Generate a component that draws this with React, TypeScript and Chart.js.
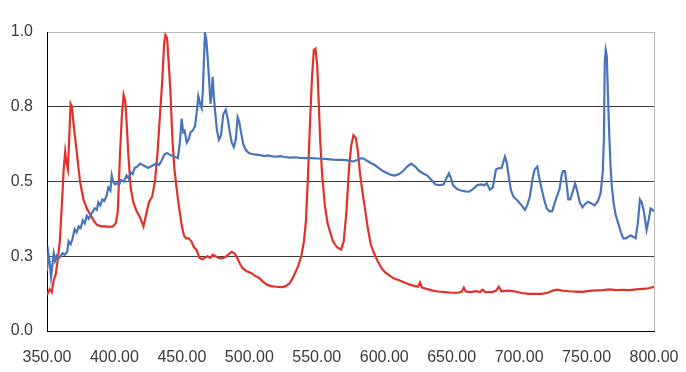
import { useEffect, useRef } from 'react';
import { Chart, registerables } from 'chart.js';

Chart.register(...registerables);

// Red spectrum (wavelength nm, relative intensity)
const redX = [
  350, 352, 353.5, 355, 356.5, 358, 359.5, 361, 362.5, 363.5, 364.5, 365.5, 366.5, 367.5, 368.5, 369.5,
  371, 372.5, 374.5, 377, 379.5, 382, 384.5, 387, 390, 393, 396, 399, 401, 402.5, 404, 405.5, 406.8,
  408, 409, 410.3, 412, 414, 416.5, 419, 421.5, 423.5, 425.5, 428, 430, 432, 434, 435.5, 436.8, 437.8,
  439, 440.2, 441.5, 443, 444.5, 446, 448, 450, 451.5, 453, 455, 457, 459, 461, 463, 465, 467, 469,
  471, 473, 475, 477, 479, 481, 483, 485, 487, 489, 491, 493, 495, 498, 501, 504, 507, 510, 513, 516,
  520, 524, 527, 530, 533, 536, 538.5, 540.5, 542, 543.5, 545, 546.5, 547.8, 549, 550.3, 551.5, 552.5,
  554, 556, 558, 560, 562, 565, 568, 570, 572, 574, 575.5, 577.2, 579, 580.5, 582, 584, 586, 588, 590,
  592, 595, 598, 601, 604, 607, 611, 615, 619, 623, 625, 626.5, 628, 632, 636, 640, 645, 650, 655,
  657.5, 659, 660.5, 664, 668, 671, 673, 675, 680, 683, 685, 687, 692, 697, 702, 707, 712, 717, 721,
  725, 728, 732, 737, 742, 747, 752, 757, 762, 767, 772, 777, 782, 787, 792, 796, 800,
];
const redY = [
  0.12, 0.14, 0.13, 0.17, 0.19, 0.24, 0.3, 0.42, 0.55, 0.6, 0.56, 0.54, 0.65, 0.76, 0.75, 0.7,
  0.64, 0.58, 0.5, 0.44, 0.41, 0.39, 0.37, 0.355, 0.35, 0.35, 0.348, 0.35, 0.36, 0.4, 0.58, 0.72, 0.79,
  0.77, 0.7, 0.59, 0.48, 0.43, 0.4, 0.38, 0.35, 0.39, 0.43, 0.45, 0.5, 0.6, 0.74, 0.84, 0.96, 0.99,
  0.98, 0.9, 0.8, 0.64, 0.54, 0.48, 0.41, 0.35, 0.32, 0.31, 0.31, 0.3, 0.28, 0.27, 0.245, 0.24, 0.245, 0.25,
  0.245, 0.255, 0.25, 0.245, 0.243, 0.245, 0.25, 0.258, 0.265, 0.26, 0.245, 0.225, 0.21, 0.2, 0.195, 0.185, 0.178, 0.165, 0.155, 0.15,
  0.148, 0.147, 0.15, 0.16, 0.185, 0.215, 0.25, 0.3, 0.37, 0.52, 0.7, 0.85, 0.94, 0.945, 0.89, 0.76, 0.64,
  0.52, 0.42, 0.36, 0.33, 0.3, 0.28, 0.272, 0.3, 0.4, 0.55, 0.62, 0.655, 0.645, 0.6, 0.53, 0.46, 0.4, 0.34, 0.29,
  0.265, 0.235, 0.21, 0.195, 0.185, 0.176, 0.17, 0.162, 0.155, 0.15, 0.148, 0.162, 0.145, 0.14, 0.135, 0.132, 0.13, 0.128, 0.128,
  0.132, 0.145, 0.132, 0.13, 0.133, 0.13, 0.138, 0.13, 0.13, 0.135, 0.148, 0.133, 0.135, 0.132, 0.127, 0.124, 0.124, 0.124, 0.128,
  0.135, 0.138, 0.135, 0.133, 0.132, 0.131, 0.134, 0.136, 0.137, 0.139, 0.137, 0.138, 0.137, 0.139, 0.141, 0.143, 0.148,
];

// Blue spectrum (wavelength nm, relative intensity)
const blueX = [
  350, 351, 352, 353, 354, 355, 356, 357, 358, 360, 361.5, 363, 365, 366, 367.5, 369, 370.5, 372, 373.5,
  375, 376.5, 378, 379.5, 381, 382.5, 384, 385.5, 387, 388, 389.5, 391, 392.5, 394, 395.5, 397, 398, 399,
  400.5, 402, 403.5, 405, 407, 409, 410.5, 412, 413.5, 415, 417, 419, 421, 423, 425, 427, 429, 431, 433,
  435, 437, 439, 441, 443, 445, 447, 448.5, 449.8, 451, 452, 453.6, 455, 456.5, 458, 459.7, 461, 462.2,
  463.5, 464.7, 465.5, 466.3, 467.1, 468, 469, 470.2, 471.2, 472.2, 472.8, 473.6, 474.5, 476, 477.5, 479,
  480.7, 482.5, 484, 485.7, 487, 488.5, 490, 491.3, 492.5, 494, 495.5, 497.5, 499.5, 502, 505, 508, 511,
  514, 517, 520, 523, 526, 530, 534, 538, 542, 546, 550, 554, 558, 562, 566, 570, 574, 577, 580, 583, 585,
  587, 590, 593, 596, 599, 602, 605, 608, 611, 614, 617, 620, 623, 626, 629, 632, 635, 638, 641, 644, 646,
  648, 649.5, 651, 654, 657, 660, 663, 666, 669, 672, 674, 676, 678.4, 680.5, 682.8, 685, 687, 689.5, 691,
  692.5, 694, 695.7, 698, 701, 704.3, 706, 708, 710, 711.5, 713.5, 715, 716.5, 718.5, 720.5, 722.5, 724.5,
  726.5, 728, 730, 731.5, 732.5, 734, 735.5, 736.5, 738, 740, 741.5, 743, 745, 747, 749, 751, 753, 756,
  758.5, 760.4, 762, 762.9, 763.5, 764.2, 765, 765.8, 766.8, 767.8, 768.8, 770, 771.5, 773.5, 775.5, 777.2,
  779, 781, 782.5, 784.5, 786.4, 788, 789.6, 791, 792.5, 794.5, 796, 797.5, 799, 800,
];
const blueY = [
  0.2, 0.26, 0.23, 0.18, 0.22, 0.26, 0.235, 0.25, 0.24, 0.25, 0.26, 0.255, 0.265, 0.3, 0.29, 0.31, 0.34, 0.33, 0.35,
  0.345, 0.37, 0.36, 0.385, 0.375, 0.39, 0.4, 0.41, 0.405, 0.43, 0.42, 0.44, 0.435, 0.45, 0.48, 0.47, 0.52, 0.5,
  0.49, 0.495, 0.49, 0.505, 0.5, 0.52, 0.51, 0.53, 0.525, 0.545, 0.55, 0.56, 0.555, 0.55, 0.545, 0.55, 0.555, 0.56, 0.555,
  0.57, 0.59, 0.595, 0.59, 0.585, 0.582, 0.578, 0.63, 0.71, 0.665, 0.67, 0.63, 0.64, 0.665, 0.67, 0.685, 0.73, 0.785,
  0.76, 0.745, 0.8, 0.9, 0.995, 0.98, 0.92, 0.84, 0.76, 0.8, 0.85, 0.79, 0.74, 0.67, 0.64, 0.655,
  0.725, 0.74, 0.71, 0.66, 0.63, 0.615, 0.64, 0.715, 0.7, 0.66, 0.625, 0.605, 0.595, 0.592, 0.59, 0.588, 0.585,
  0.587, 0.584, 0.583, 0.585, 0.582, 0.58, 0.581, 0.579, 0.578, 0.578, 0.577, 0.576, 0.575, 0.573, 0.572, 0.572, 0.57, 0.567, 0.572, 0.578, 0.576,
  0.57, 0.562, 0.555, 0.545, 0.535, 0.528, 0.522, 0.52, 0.525, 0.535, 0.55, 0.56, 0.55, 0.535, 0.527, 0.52, 0.505, 0.49, 0.488, 0.49, 0.51,
  0.527, 0.51, 0.488, 0.475, 0.47, 0.467, 0.466, 0.475, 0.488, 0.49, 0.487, 0.494, 0.472, 0.48, 0.54, 0.545, 0.545, 0.583, 0.56,
  0.51, 0.47, 0.45, 0.44, 0.425, 0.405, 0.42, 0.45, 0.51, 0.54, 0.55, 0.51, 0.48, 0.44, 0.41, 0.4, 0.4,
  0.43, 0.45, 0.475, 0.52, 0.535, 0.535, 0.48, 0.44, 0.44, 0.47, 0.494, 0.47, 0.43, 0.414, 0.425, 0.432, 0.428, 0.42,
  0.435, 0.461, 0.53, 0.65, 0.9, 0.94, 0.92, 0.8, 0.66, 0.55, 0.48, 0.43, 0.39, 0.36, 0.33, 0.31,
  0.31, 0.315, 0.32, 0.315, 0.31, 0.36, 0.44, 0.43, 0.4, 0.338, 0.37, 0.41, 0.405, 0.4,
];

const yTickLabels = ['0.0', '0.3', '0.5', '0.8', '1.0'];
const xMin = 350;
const xMax = 800;
const xStep = 50;

export default function App() {
  const ref = useRef<HTMLCanvasElement | null>(null);

  useEffect(() => {
    document.body.style.margin = '0';
    const canvas = ref.current;
    if (!canvas) return;
    const font = { family: '"Liberation Sans", Arial, sans-serif', size: 16 };
    const chart = new Chart(canvas, {
      type: 'line',
      data: {
        datasets: [
          {
            data: blueX.map((x, i) => ({ x, y: blueY[i] })),
            borderColor: '#4a74b9',
            borderWidth: 2.2,
            pointRadius: 0,
            tension: 0,
            fill: false,
            order: 0,
          },
          {
            data: redX.map((x, i) => ({ x, y: redY[i] })),
            borderColor: '#e2312b',
            borderWidth: 2.2,
            pointRadius: 0,
            tension: 0,
            fill: false,
            order: 1,
          },
        ],
      },
      options: {
        responsive: false,
        animation: false,
        devicePixelRatio: 1,
        layout: { padding: { left: 0, right: 32, top: 32, bottom: 0 } },
        plugins: { legend: { display: false }, tooltip: { enabled: false } },
        scales: {
          x: {
            type: 'linear',
            min: xMin,
            max: xMax,
            ticks: {
              stepSize: xStep,
              color: '#3a3a3a',
              font,
              padding: 0,
              maxRotation: 0,
              autoSkip: false,
              callback: (v: any) => Number(v).toFixed(2),
            },
            grid: {
              drawTicks: true,
              tickLength: 17,
              tickColor: 'rgba(0,0,0,0)',
              color: (ctx: any) => (ctx.tick && ctx.tick.value === xMax ? '#b8b8b8' : 'rgba(0,0,0,0)'),
              lineWidth: 1,
            },
            border: { color: '#000000', width: 1 },
            afterFit: (scale: any) => {
              scale.height = 41;
            },
          },
          y: {
            type: 'linear',
            min: 0,
            max: 1,
            ticks: {
              stepSize: 0.25,
              color: '#3a3a3a',
              font,
              padding: 14,
              callback: (_v: any, i: number) => yTickLabels[i],
            },
            grid: {
              drawTicks: false,
              color: (ctx: any) => (ctx.tick && ctx.tick.value === 1 ? '#b8b8b8' : '#3c3c3c'),
              lineWidth: 1,
            },
            border: { color: '#000000', width: 1 },
            afterFit: (scale: any) => {
              scale.width = 47;
            },
          },
        },
      },
    });
    return () => chart.destroy();
  }, []);

  return (
    <div style={{ width: 686, height: 372, background: '#ffffff' }}>
      <canvas ref={ref} width={686} height={372} />
    </div>
  );
}
